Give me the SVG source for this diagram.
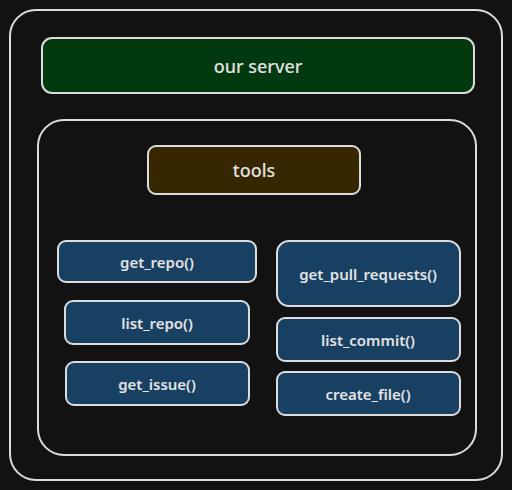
<svg xmlns="http://www.w3.org/2000/svg" width="512" height="490" viewBox="0 0 512 490">
<style>
.box{stroke:#dcdcdc;stroke-width:2;}
.frame{fill:none;stroke:#dcdcdc;stroke-width:2;}
.lbl{font-family:"Noto Sans","Open Sans",sans-serif;fill:#e3e3e3;text-anchor:middle;dominant-baseline:central;}
.big{font-size:18px;font-weight:500;}
.sm{font-size:15px;font-weight:600;}
.fn{fill:#174062;}
</style>
<rect width="512" height="490" fill="#121212"/>
<g id="outer"><rect class="frame" x="10" y="10" width="492" height="470" rx="26"/></g>
<g id="server"><rect class="box" x="42" y="38" width="432" height="55" rx="10" fill="#03390f"/><text class="lbl big" x="258" y="66">our server</text></g>
<g id="container"><rect class="frame" x="38" y="120" width="438" height="335" rx="26"/></g>
<g id="tools"><rect class="box" x="148" y="146" width="212" height="48" rx="8" fill="#362700"/><text class="lbl big" x="254" y="170">tools</text></g>
<g id="get_repo"><rect class="box fn" x="58" y="241" width="198" height="41" rx="8"/><text class="lbl sm" x="157" y="262">get_repo()</text></g>
<g id="list_repo"><rect class="box fn" x="65" y="301" width="184" height="43" rx="8"/><text class="lbl sm" x="157" y="323">list_repo()</text></g>
<g id="get_issue"><rect class="box fn" x="66" y="362" width="183" height="43" rx="8"/><text class="lbl sm" x="157" y="384">get_issue()</text></g>
<g id="get_pull_requests"><rect class="box fn" x="277" y="241" width="183" height="65" rx="12"/><text class="lbl sm" x="368" y="274">get_pull_requests()</text></g>
<g id="list_commit"><rect class="box fn" x="277" y="318" width="183" height="43" rx="8"/><text class="lbl sm" x="368" y="340">list_commit()</text></g>
<g id="create_file"><rect class="box fn" x="277" y="372" width="183" height="43" rx="8"/><text class="lbl sm" x="368" y="394">create_file()</text></g>
<g id="connectors"></g>
</svg>
